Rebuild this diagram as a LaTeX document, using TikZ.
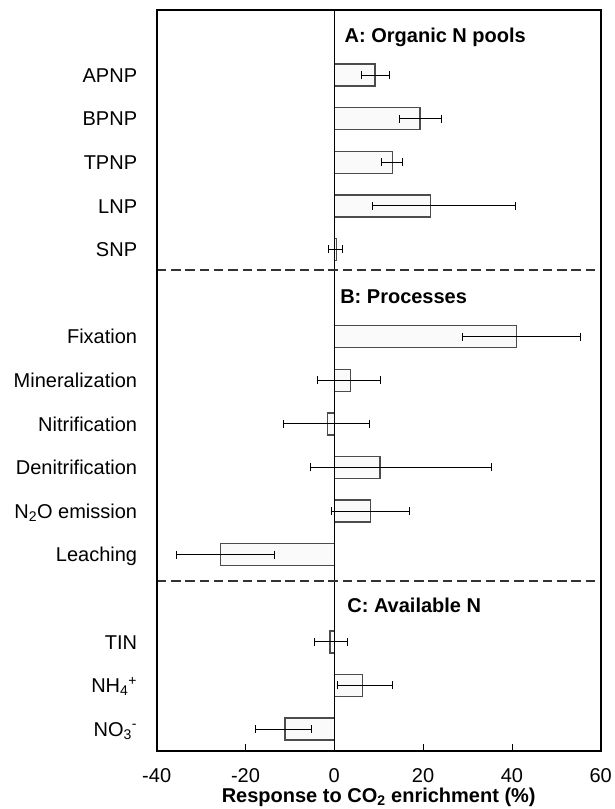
\documentclass[tikz,border=0pt]{standalone}
\usepackage{fontspec}
\setmainfont{Liberation Sans}
\usetikzlibrary{arrows.meta}

\begin{document}
\begin{tikzpicture}[x=1pt, y=-1pt,
    bar/.style={draw=black!70, line width=1.4pt, fill=black!2},
    errbar/.style={line width=0.8pt, {Bar[width=8pt]}-{Bar[width=8pt]}},
    sep/.style={draw=black!80, line width=1.6pt, dash pattern=on 9.5pt off 4.8pt},
    lab/.style={anchor=base east, inner sep=0pt, font=\fontsize{20}{24}\selectfont},
    sect/.style={anchor=base west, inner sep=0pt, font=\fontsize{20}{24}\selectfont\bfseries},
    ticklab/.style={anchor=base, inner sep=0pt, font=\fontsize{20}{24}\selectfont}]
    \useasboundingbox (0,0) rectangle (614,809);

    % row labels
    \node[lab] (apnp) at (137.3,82.2)  {APNP};
    \node[lab] (bpnp) at (137.3,125.8) {BPNP};
    \node[lab] (tpnp) at (137.3,169.4) {TPNP};
    \node[lab] (lnp)  at (137.3,213.0) {LNP};
    \node[lab] (snp)  at (137.3,256.6) {SNP};

    \node[lab] (fix)  at (137.3,343.8) {Fixation};
    \node[lab] (mine) at (137.3,387.4) {Mineralization};
    \node[lab] (nitr) at (137.3,431.0) {Nitrification};
    \node[lab] (deni) at (137.3,474.6) {Denitrification};
    \node[lab] (ntwo) at (137.3,518.2) {N\textsubscript{2}O emission};
    \node[lab] (leach) at (137.3,561.8) {Leaching};

    \node[lab] (tin)  at (137.3,649.0) {TIN};
    \node[lab] (nhf)  at (137.3,692.6) {NH\textsubscript{4}\textsuperscript{+}};
    \node[lab] (not)  at (137.3,736.2) {NO\textsubscript{3}\textsuperscript{-}};

    \begin{scope}[xshift=334.3pt, x=4.44pt]
        % A: organic N pools
        \draw[bar] (0,64)    rectangle (9.2,86);
        \draw[bar] (0,107.6) rectangle (19.3,129.6);
        \draw[bar] (0,151.2) rectangle (13.1,173.2);
        \draw[bar] (0,194.8) rectangle (21.6,216.8);
        \draw[bar] (0,238.4) rectangle (0.5,260.4);

        % B: processes
        \draw[bar] (0,325.6) rectangle (41.0,347.6);
        \draw[bar] (0,369.2) rectangle (3.7,391.2);
        \draw[bar] (0,412.8) rectangle (-1.5,434.8);
        \draw[bar] (0,456.4) rectangle (10.3,478.4);
        \draw[bar] (0,500)   rectangle (8.1,522);
        \draw[bar] (0,543.6) rectangle (-25.6,565.6);

        % C: available N
        \draw[bar] (0,630.8) rectangle (-1.0,652.8);
        \draw[bar] (0,674.4) rectangle (6.4,696.4);
        \draw[bar] (0,718)   rectangle (-11.1,740);

        % zero line
        \draw[line width=0.9pt] (0,10.3) -- (0,750.7);

        % error bars
        \draw[errbar] (6.1,75)    -- (12.4,75);
        \draw[errbar] (14.5,118.6) -- (24.1,118.6);
        \draw[errbar] (10.6,162.2) -- (15.4,162.2);
        \draw[errbar] (8.5,205.8) -- (40.9,205.8);
        \draw[errbar] (-1.5,249.4) -- (2.0,249.4);

        \draw[errbar] (28.7,336.6) -- (55.6,336.6);
        \draw[errbar] (-3.8,380.2) -- (10.5,380.2);
        \draw[errbar] (-11.5,423.8) -- (8.0,423.8);
        \draw[errbar] (-5.5,467.4) -- (35.4,467.4);
        \draw[errbar] (-0.8,511) -- (17.0,511);
        \draw[errbar] (-35.6,554.6) -- (-13.3,554.6);

        \draw[errbar] (-4.5,641.8) -- (3.0,641.8);
        \draw[errbar] (0.7,685.4) -- (13.1,685.4);
        \draw[errbar] (-17.8,729) -- (-5.1,729);

        % section separators
        \draw[sep] (-40,270) -- (60,270);
        \draw[sep] (-40,581) -- (60,581);

        % section titles
        \node[sect] (ta) at (2.3,42.2)  {A: Organic N pools};
        \node[sect] (tb) at (1.3,303.2) {B: Processes};
        \node[sect] (tc) at (2.9,612.2) {C: Available N};

        % frame and ticks
        \draw[line width=0.8pt] (-20,750.7) -- (-20,743.5);
        \draw[line width=0.8pt] (20,750.7) -- (20,743.5);
        \draw[line width=0.8pt] (40,750.7) -- (40,743.5);
        \draw[line width=1.8pt] (-40,10.3) rectangle (60,750.7);

        % tick labels
        \node[ticklab] (xa) at (-40,782.2) {-40};
        \node[ticklab] (xb) at (-20,782.2) {-20};
        \node[ticklab] (xc) at (0,782.2)   {0};
        \node[ticklab] (xd) at (20,782.2)  {20};
        \node[ticklab] (xe) at (40,782.2)  {40};
        \node[ticklab] (xf) at (60,782.2)  {60};

        \node[ticklab, font=\fontsize{20}{24}\selectfont\bfseries] (xtitle) at (10,802)
            {Response to CO\textsubscript{2} enrichment (\%)};
    \end{scope}
\end{tikzpicture}
\end{document}
